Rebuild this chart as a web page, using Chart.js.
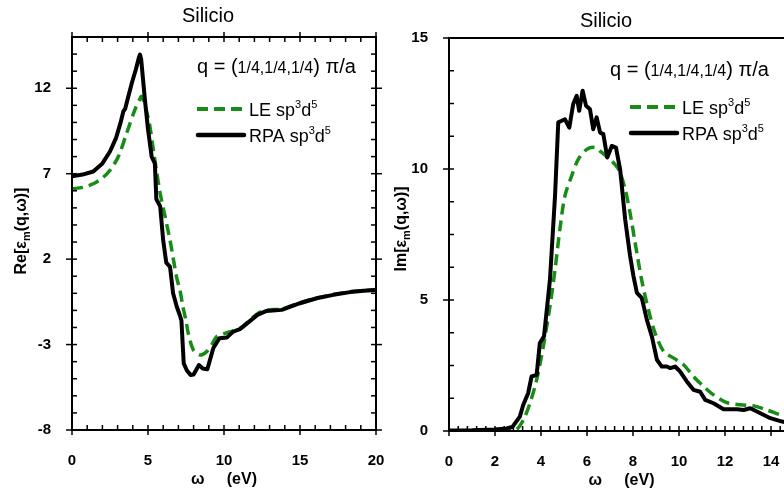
<!DOCTYPE html>
<html>
<head>
<meta charset="utf-8">
<script src="https://cdn.jsdelivr.net/npm/chart.js@4.4.1/dist/chart.umd.min.js"></script>
<style>
  html, body { margin: 0; padding: 0; background: #fff; overflow: hidden; }
  .panel { position: absolute; top: 0; height: 493px; }
  #left { left: 0; width: 392px; }
  #right { left: 392px; width: 420px; }
</style>
</head>
<body>
<div class="panel" id="left"><canvas id="chartRe"></canvas></div>
<div class="panel" id="right"><canvas id="chartIm"></canvas></div>
<script>
// Re[eps] panel
const reOmegaRPA = [0, 0.7, 1.4, 2.0, 2.5, 2.9, 3.2, 3.38, 3.5, 3.7, 3.95, 4.2, 4.4, 4.47, 4.55, 4.8, 5.0, 5.24, 5.45, 5.55, 5.8, 6.0, 6.2, 6.45, 6.65, 6.9, 7.1, 7.2, 7.35, 7.55, 7.8, 8.0, 8.35, 8.6, 8.9, 9.3, 9.7, 10.2, 10.6, 11.05, 11.6, 12.2, 12.8, 13.8, 15, 16.1, 17.2, 18.3, 19.2, 20];
const reRPA = [6.85, 6.95, 7.13, 7.6, 8.3, 9.1, 10.0, 10.65, 10.8, 11.5, 12.35, 13.1, 13.8, 13.97, 13.7, 11.3, 9.6, 8.0, 7.6, 5.5, 5.1, 3.1, 1.8, 1.55, 0.0, -0.8, -1.3, -1.6, -4.1, -4.5, -4.78, -4.75, -4.2, -4.4, -4.45, -3.2, -2.63, -2.58, -2.24, -2.1, -1.7, -1.26, -1.03, -0.97, -0.58, -0.29, -0.09, 0.07, 0.15, 0.2];
const reOmegaLE = [0, 0.7, 1.4, 2.0, 2.5, 3.05, 3.6, 4.14, 4.45, 4.58, 4.8, 5.1, 5.35, 5.57, 5.79, 6.0, 6.45, 6.89, 7.1, 7.3, 7.5, 7.65, 7.98, 8.42, 8.86, 9.2, 9.52, 10.07, 10.6, 11.05, 11.6, 12.2, 12.8, 13.8, 15, 16.1, 17.2, 18.3, 19.2, 20];
const reLE = [6.12, 6.2, 6.41, 6.75, 7.2, 8.01, 9.38, 10.75, 11.35, 11.53, 11.0, 9.9, 8.4, 7.1, 5.9, 5.0, 3.1, 0.9, 0.2, -0.8, -1.6, -2.34, -3.31, -3.61, -3.41, -3.0, -2.53, -2.34, -2.2, -2.05, -1.65, -1.2, -0.98, -0.92, -0.55, -0.27, -0.07, 0.09, 0.17, 0.22];
const reXTicks = [0, 5, 10, 15, 20];
const reYTicks = [-8, -3, 2, 7, 12];

// Im[eps] panel
const imOmegaRPA = [0, 1, 2, 2.5, 2.75, 3.08, 3.23, 3.44, 3.59, 3.81, 3.95, 4.13, 4.39, 4.61, 4.75, 4.9, 5.04, 5.23, 5.4, 5.55, 5.66, 5.81, 5.96, 6.13, 6.27, 6.42, 6.57, 6.71, 6.88, 7.08, 7.26, 7.44, 7.66, 7.87, 8.02, 8.17, 8.38, 8.6, 8.82, 9.04, 9.25, 9.47, 9.62, 9.83, 10.05, 10.34, 10.63, 10.92, 11.14, 11.5, 11.94, 12.52, 12.81, 13.1, 13.54, 13.97, 14.48, 15];
const imRPA = [0.02, 0.03, 0.06, 0.1, 0.15, 0.55, 1.0, 1.44, 2.08, 2.14, 3.36, 3.61, 5.78, 8.97, 11.78, 11.84, 11.9, 11.58, 12.48, 12.79, 12.22, 12.99, 12.41, 12.28, 11.52, 11.97, 11.39, 11.33, 10.44, 10.88, 10.82, 9.99, 8.07, 6.7, 5.91, 5.27, 5.08, 4.25, 3.61, 2.72, 2.46, 2.46, 2.4, 2.46, 2.27, 1.89, 1.57, 1.5, 1.19, 1.06, 0.83, 0.83, 0.8, 0.87, 0.68, 0.49, 0.36, 0.28];
const imOmegaLE = [0, 1, 2, 2.6, 2.94, 3.23, 3.52, 3.81, 4.1, 4.39, 4.61, 4.82, 5.04, 5.33, 5.62, 5.99, 6.35, 6.64, 7.0, 7.37, 7.66, 7.87, 8.09, 8.38, 8.67, 8.96, 9.33, 9.77, 10.2, 10.63, 11.07, 11.5, 12.08, 12.67, 13.25, 13.83, 14.41, 15];
const imLE = [0.0, 0.0, 0.01, 0.02, 0.06, 0.42, 1.06, 1.95, 3.23, 4.76, 6.16, 7.69, 8.97, 9.73, 10.37, 10.75, 10.82, 10.63, 10.37, 9.99, 9.22, 8.33, 7.2, 5.75, 4.63, 3.74, 3.04, 2.78, 2.53, 2.08, 1.7, 1.38, 1.08, 1.0, 0.96, 0.8, 0.61, 0.45];
const imXTicks = [0, 2, 4, 6, 8, 10, 12, 14];
const imYTicks = [0, 5, 10, 15];

const GREEN = "#178c17";
const FONT = "'Liberation Sans', Arial, sans-serif";

const pts = (xs, ys) => xs.map((x, i) => ({ x, y: ys[i] }));

// rich text: array of [text, size, dy]
function drawParts(ctx, parts, x, y, weight) {
  let cx = x;
  parts.forEach(([t, size, dy]) => {
    ctx.font = `${weight} ${size}px ${FONT}`;
    ctx.fillText(t, cx, y + (dy || 0));
    cx += ctx.measureText(t).width;
  });
  return cx - x;
}
function partsWidth(ctx, parts, weight) {
  let w = 0;
  parts.forEach(([t, size]) => {
    ctx.font = `${weight} ${size}px ${FONT}`;
    w += ctx.measureText(t).width;
  });
  return w;
}

function drawTicks(ctx, scale, a, o, horizontal, sides) {
  const n = Math.round((scale.max - scale.min) / o.minor);
  for (let i = 0; i <= n; i++) {
    const v = scale.min + i * o.minor;
    const r = (v - o.base) / o.major;
    const major = Math.abs(r - Math.round(r)) < 1e-6;
    const p = scale.getPixelForValue(v);
    sides.forEach(side => {
      ctx.beginPath();
      if (horizontal) {
        const y0 = side === "bottom" ? a.bottom : a.top;
        const dir = side === "bottom" ? -1 : 1;
        ctx.moveTo(p, y0 + dir * 5);
        ctx.lineTo(p, y0 - dir * (major ? 5 : 0));
      } else {
        const x0 = side === "left" ? a.left : a.right;
        const dir = side === "left" ? 1 : -1;
        ctx.moveTo(x0 + dir * 5, p);
        ctx.lineTo(x0 - dir * (major ? 6 : 0), p);
      }
      ctx.stroke();
    });
  }
}

const decor = {
  id: "decor",
  afterDraw(chart, args, o) {
    const { ctx, chartArea: a, scales } = chart;
    ctx.save();
    ctx.strokeStyle = "#000";
    ctx.fillStyle = "#000";
    ctx.lineWidth = 2;
    ctx.strokeRect(a.left, a.top, a.right - a.left, a.bottom - a.top);
    ctx.lineWidth = 1.5;
    drawTicks(ctx, scales.x, a, o.xt, true, o.topTicks ? ["bottom", "top"] : ["bottom"]);
    drawTicks(ctx, scales.y, a, o.yt, false, ["left", "right"]);

    // title
    ctx.textBaseline = "alphabetic";
    ctx.textAlign = "center";
    ctx.font = `20px ${FONT}`;
    ctx.fillText("Silicio", o.title[0], o.title[1]);
    ctx.textAlign = "left";

    // q label
    drawParts(ctx, [["q = (", 20], ["1/4,1/4,1/4", 16], [") \u03c0/a", 20]], o.q[0], o.q[1], "normal");

    // legend
    const [lx, ly] = o.legend;
    ctx.lineWidth = 4;
    ctx.strokeStyle = GREEN;
    ctx.setLineDash([11, 6]);
    ctx.beginPath(); ctx.moveTo(lx, ly); ctx.lineTo(lx + 48, ly); ctx.stroke();
    ctx.setLineDash([]);
    ctx.strokeStyle = "#000";
    ctx.lineWidth = 4.5;
    ctx.lineCap = "round";
    ctx.beginPath(); ctx.moveTo(lx + 1, ly + 26); ctx.lineTo(lx + 47, ly + 26); ctx.stroke();
    ctx.lineCap = "butt";
    drawParts(ctx, [["LE sp", 18], ["3", 11, -8], ["d", 18], ["5", 11, -8]], lx + 52, ly + 7, "normal");
    drawParts(ctx, [["RPA sp", 18], ["3", 11, -8], ["d", 18], ["5", 11, -8]], lx + 52, ly + 33, "normal");

    // y title (rotated)
    const yParts = [[o.yName + "[\u03b5", 16], ["m", 11, 4], ["(q,\u03c9)]", 16]];
    ctx.save();
    ctx.translate(o.yTitle[0], o.yTitle[1]);
    ctx.rotate(-Math.PI / 2);
    const yw = partsWidth(ctx, yParts, "bold");
    drawParts(ctx, yParts, -yw / 2, 0, "bold");
    ctx.restore();

    // x title
    ctx.textAlign = "center";
    ctx.font = `bold 16px ${FONT}`;
    ctx.fillText("\u03c9     (eV)", (a.left + a.right) / 2, o.xTitleY);
    ctx.restore();
  }
};

function tickFont() {
  return { family: FONT, size: 15, weight: "bold" };
}

function noPad(s) {
  s.paddingLeft = 0;
  s.paddingRight = 0;
  s.paddingTop = 0;
  s.paddingBottom = 0;
}

function makeChart(id, cfg) {
  return new Chart(document.getElementById(id), {
    type: "line",
    data: {
      datasets: [
        {
          label: "RPA sp3d5",
          data: cfg.rpa,
          borderColor: "#000",
          borderWidth: 4,
          pointRadius: 0,
          tension: 0,
          borderJoinStyle: "round",
          borderCapStyle: "round"
        },
        {
          label: "LE sp3d5",
          data: cfg.le,
          borderColor: GREEN,
          borderWidth: 3.5,
          borderDash: [11, 6],
          pointRadius: 0,
          tension: 0.3
        }
      ]
    },
    options: {
      responsive: true,
      maintainAspectRatio: false,
      animation: false,
      layout: { padding: { left: 0, right: cfg.padRight, top: cfg.padTop, bottom: 0 } },
      plugins: { legend: { display: false }, tooltip: { enabled: false }, decor: cfg.decor },
      scales: {
        x: {
          type: "linear",
          min: cfg.xMin,
          max: cfg.xMax,
          afterFit: s => { s.height = cfg.xHeight; noPad(s); },
          afterBuildTicks: s => { s.ticks = cfg.xTicks.map(v => ({ value: v })); },
          grid: { display: false },
          border: { display: false },
          ticks: { padding: 14, color: "#000", font: tickFont(), maxRotation: 0, autoSkip: false }
        },
        y: {
          type: "linear",
          min: cfg.yMin,
          max: cfg.yMax,
          afterFit: s => { s.width = cfg.yWidth; noPad(s); },
          afterBuildTicks: s => { s.ticks = cfg.yTicks.map(v => ({ value: v })); },
          grid: { display: false },
          border: { display: false },
          ticks: { padding: 13, color: "#000", font: tickFont(), autoSkip: false }
        }
      }
    },
    plugins: [decor]
  });
}

makeChart("chartRe", {
  rpa: pts(reOmegaRPA, reRPA),
  le: pts(reOmegaLE, reLE),
  xMin: 0, xMax: 20, yMin: -8, yMax: 15,
  xTicks: reXTicks, yTicks: reYTicks,
  yWidth: 72, xHeight: 63, padRight: 16, padTop: 37,
  decor: {
    xt: { minor: 1, major: 5, base: 0 },
    yt: { minor: 1, major: 5, base: -8 },
    topTicks: true,
    title: [208, 22],
    q: [197, 73],
    legend: [197, 109],
    yName: "Re",
    yTitle: [26, 231],
    xTitleY: 484
  }
});

makeChart("chartIm", {
  rpa: pts(imOmegaRPA, imRPA),
  le: pts(imOmegaLE, imLE),
  xMin: 0, xMax: 15, yMin: 0, yMax: 15,
  xTicks: imXTicks, yTicks: imYTicks,
  yWidth: 57, xHeight: 62, padRight: 18, padTop: 38,
  decor: {
    xt: { minor: 0.4, major: 2, base: 0 },
    yt: { minor: 1.25, major: 5, base: 0 },
    topTicks: false,
    title: [214, 27],
    q: [218, 76],
    legend: [238, 107],
    yName: "Im",
    yTitle: [14, 229],
    xTitleY: 485
  }
});
</script>
</body>
</html>
